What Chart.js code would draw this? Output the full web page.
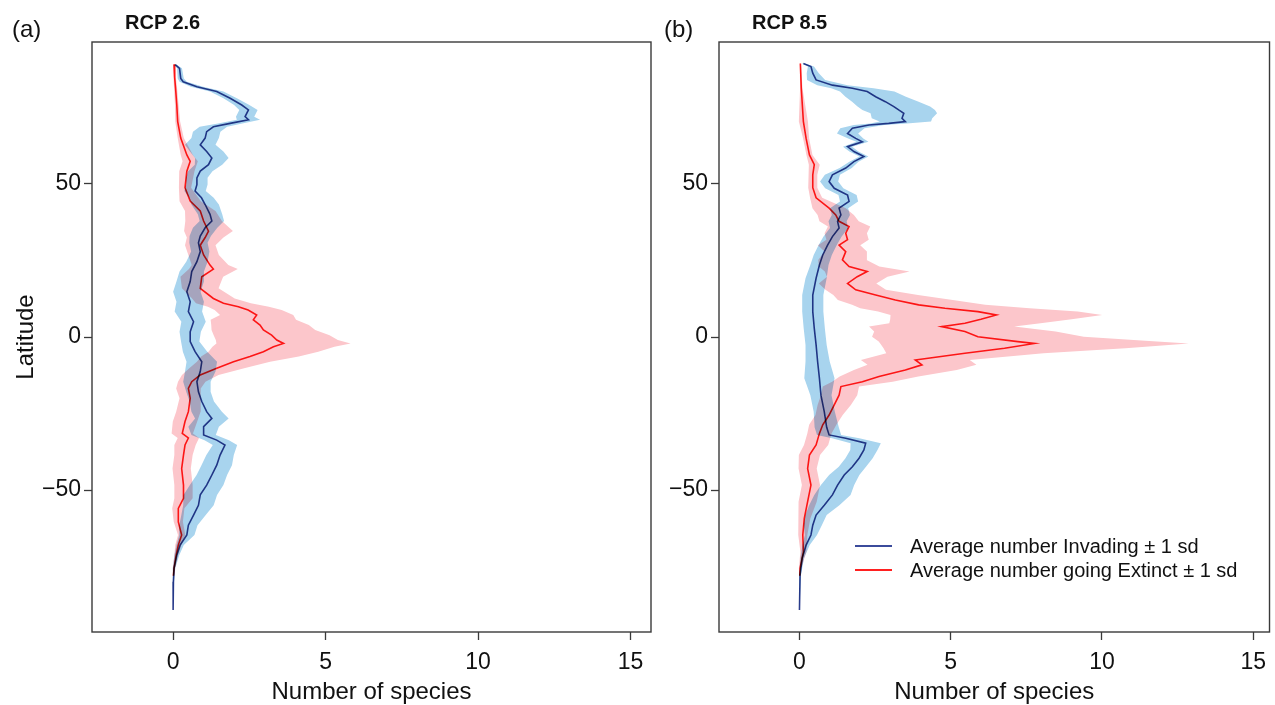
<!DOCTYPE html>
<html><head><meta charset="utf-8">
<script src="https://cdn.jsdelivr.net/npm/chart.js@4.4.1/dist/chart.umd.min.js"></script>
<style>
html,body{margin:0;padding:0;background:#fff;width:1275px;height:705px;overflow:hidden;font-family:"Liberation Sans",Arial,sans-serif;color:#111;}
canvas{position:absolute;top:0;}
#ca{left:0;}
#cb{left:627px;}
.t{position:absolute;white-space:nowrap;}
.pl{font-size:24px;line-height:24px;}
.rc{font-size:20px;line-height:20px;font-weight:bold;}
.lg{font-size:20px;line-height:20px;left:910px;}
.ll{position:absolute;left:855px;width:37px;height:2px;}
</style></head>
<body>
<canvas id="ca" width="660" height="705"></canvas>
<canvas id="cb" width="648" height="705"></canvas>
<div class="t pl" style="left:12px;top:17px;">(a)</div>
<div class="t rc" style="left:125px;top:12px;">RCP 2.6</div>
<div class="t pl" style="left:664px;top:17px;">(b)</div>
<div class="t rc" style="left:752px;top:12px;">RCP 8.5</div>
<div class="ll" style="top:545px;background:#3b4b9b;"></div>
<div class="ll" style="top:569px;background:#ff2020;"></div>
<div class="t lg" style="top:536px;">Average number Invading ± 1 sd</div>
<div class="t lg" style="top:560px;">Average number going Extinct ± 1 sd</div>
<script>
const xTicks = [0, 5, 10, 15];
const yTicks = [-50, 0, 50];

// Panel (a) RCP 2.6 - invading
const latAI = [89, 87.8, 84.5, 83.4, 81.8, 80.2, 78, 75.8, 74.2, 72, 71, 69.8, 68.7, 67.1, 65, 62.8, 60.6, 58.5, 56.3, 54.2, 52, 49.8, 47.7, 45.5, 43.3, 40.1, 37.9, 35.7, 33, 30.8, 27.9, 24.6, 21.4, 18.1, 14.8, 11.5, 8.3, 5, 1.7, -1.5, -4.8, -8.1, -11.3, -14.6, -17.9, -21.1, -24.4, -26.6, -29.3, -32, -33.7, -35.3, -38.6, -41.9, -45.1, -48.4, -51.6, -55, -58.2, -61.5, -64.7, -68, -71.3, -75.6, -80, -89.2];
const meanAI = [0.07, 0.21, 0.25, 0.33, 0.78, 1.43, 1.87, 2.25, 2.47, 2.36, 2.47, 1.87, 1.32, 1.10, 1.05, 0.89, 1.10, 1.27, 1.16, 0.89, 0.78, 0.78, 0.72, 0.93, 1.05, 1.21, 1.27, 1.05, 0.89, 0.83, 0.89, 0.78, 0.61, 0.56, 0.45, 0.56, 0.50, 0.67, 0.56, 0.56, 0.72, 0.94, 0.89, 0.78, 0.83, 0.94, 1.10, 1.27, 1.0, 1.0, 1.43, 1.70, 1.54, 1.43, 1.27, 1.10, 0.89, 0.83, 0.67, 0.50, 0.45, 0.23, 0.12, 0.03, 0.01, 0.0];
const sdAI = [0.05, 0.08, 0.1, 0.12, 0.2, 0.22, 0.22, 0.25, 0.3, 0.3, 0.38, 0.4, 0.45, 0.45, 0.45, 0.5, 0.55, 0.55, 0.45, 0.4, 0.35, 0.35, 0.35, 0.4, 0.45, 0.4, 0.4, 0.4, 0.35, 0.3, 0.3, 0.35, 0.4, 0.45, 0.45, 0.45, 0.45, 0.4, 0.35, 0.3, 0.4, 0.5, 0.5, 0.45, 0.4, 0.4, 0.5, 0.55, 0.5, 0.4, 0.4, 0.4, 0.45, 0.5, 0.5, 0.55, 0.55, 0.5, 0.4, 0.3, 0.25, 0.12, 0.08, 0.04, 0.02, 0];

// Panel (a) RCP 2.6 - going extinct
const latAE = [89.1, 84.9, 81.3, 75.8, 70.4, 65, 59.5, 57.4, 54.2, 48.8, 44.4, 41.2, 37.9, 34.6, 32.5, 30, 26.8, 23.5, 22.2, 19.7, 15.9, 12.6, 11, 9.9, 8.8, 7.2, 5.6, 3.9, 2.3, 0.6, -1, -2.1, -3.2, -4.8, -6.4, -8.1, -10.2, -12.4, -14.6, -16.8, -20, -24.4, -27.6, -31.5, -33, -35.3, -38.6, -43, -48.4, -52.7, -56, -60.4, -64.7, -68, -71.3, -75.6, -78];
const meanAE = [0.03, 0.05, 0.08, 0.12, 0.15, 0.25, 0.45, 0.56, 0.45, 0.39, 0.56, 0.89, 1.0, 1.16, 1.05, 0.89, 1.0, 1.21, 1.32, 0.94, 0.89, 1.32, 1.65, 2.14, 2.46, 2.74, 2.63, 2.85, 2.96, 3.23, 3.40, 3.62, 3.29, 2.96, 2.52, 1.98, 1.43, 0.89, 0.61, 0.50, 0.56, 0.50, 0.39, 0.30, 0.50, 0.39, 0.34, 0.28, 0.34, 0.34, 0.17, 0.17, 0.28, 0.17, 0.10, 0.03, 0.01];
const sdAE = [0.03, 0.04, 0.05, 0.06, 0.08, 0.1, 0.2, 0.25, 0.25, 0.2, 0.35, 0.5, 0.6, 0.8, 0.6, 0.5, 0.5, 0.6, 0.8, 0.7, 0.6, 0.7, 0.9, 1.0, 1.1, 1.2, 1.4, 1.6, 1.7, 1.9, 2.0, 2.2, 2.0, 1.8, 1.6, 1.2, 0.9, 0.6, 0.45, 0.4, 0.35, 0.4, 0.4, 0.35, 0.35, 0.35, 0.3, 0.3, 0.3, 0.3, 0.2, 0.15, 0.12, 0.1, 0.06, 0.04, 0.02];

// Panel (b) RCP 8.5 - invading
const latBI = [89.4, 88.4, 86.2, 84, 82.3, 81.3, 80.2, 78.5, 76.9, 75.3, 74.2, 73.1, 71.5, 70.4, 69.8, 69.3, 68.2, 66.5, 64.9, 63.8, 62.2, 60.6, 59, 57.3, 55.2, 53, 50.8, 48.6, 46.4, 44.3, 42.1, 39.9, 37.8, 35.6, 32.8, 30, 26.8, 23.5, 19.2, 13.7, 8.3, 2.8, -2.6, -8, -13.5, -19, -24.4, -29.5, -32, -33.1, -34.7, -36.9, -39.6, -42.4, -45.1, -48.4, -51.6, -55, -58.2, -61.5, -64.7, -68, -72.3, -77.8, -89.2];
const meanBI = [0.13, 0.38, 0.44, 0.55, 1.09, 1.75, 2.24, 2.52, 2.84, 3.12, 3.28, 3.45, 3.39, 3.5, 2.95, 2.3, 1.75, 1.59, 1.86, 2.08, 1.59, 1.8, 2.13, 1.8, 1.53, 1.09, 0.98, 1.15, 1.59, 1.64, 1.31, 1.37, 1.26, 1.31, 1.09, 0.93, 0.77, 0.66, 0.55, 0.44, 0.44, 0.49, 0.55, 0.6, 0.66, 0.71, 0.82, 0.9, 0.98, 1.53, 2.19, 2.13, 1.97, 1.75, 1.48, 1.26, 1.09, 0.82, 0.55, 0.44, 0.38, 0.22, 0.09, 0.02, 0.0];
const sdBI = [0.05, 0.1, 0.2, 0.3, 0.5, 0.7, 0.9, 1.0, 1.1, 1.2, 1.2, 1.1, 1.0, 0.85, 0.6, 0.5, 0.4, 0.35, 0.25, 0.2, 0.15, 0.15, 0.15, 0.15, 0.2, 0.25, 0.3, 0.3, 0.3, 0.3, 0.3, 0.3, 0.3, 0.3, 0.3, 0.3, 0.3, 0.3, 0.35, 0.35, 0.35, 0.35, 0.35, 0.4, 0.5, 0.35, 0.35, 0.4, 0.4, 0.45, 0.5, 0.45, 0.45, 0.45, 0.5, 0.55, 0.6, 0.5, 0.35, 0.3, 0.2, 0.12, 0.06, 0.03, 0];

// Panel (b) RCP 8.5 - going extinct
const latBE = [89.4, 81.3, 70.4, 64.9, 59.5, 56.3, 53, 48.8, 45.5, 42.1, 39.9, 37.8, 36.1, 33.9, 31.8, 30, 27.9, 25.2, 23, 21.4, 19.7, 17.5, 15.4, 13.7, 12.1, 10.5, 9.4, 8.3, 7.2, 5.8, 4.5, 3.4, 1.8, 0.1, -1.5, -2.1, -3.7, -5.3, -7.5, -9.1, -10.8, -12.9, -14.6, -16.2, -19, -22.2, -25.5, -28.7, -31.5, -35.3, -38.6, -43, -48.4, -53.8, -59.3, -64.7, -70.2, -75.6, -78];
const meanBE = [0.03, 0.06, 0.13, 0.22, 0.33, 0.49, 0.44, 0.44, 0.55, 0.98, 1.2, 1.31, 1.64, 1.53, 1.59, 1.31, 1.53, 1.42, 1.64, 2.24, 1.91, 1.59, 1.86, 2.52, 3.17, 3.94, 4.81, 5.9, 6.51, 6.0, 5.47, 4.7, 5.47, 5.9, 7.22, 7.77, 6.78, 5.47, 3.83, 4.05, 3.5, 2.63, 2.08, 1.37, 1.31, 1.15, 0.98, 0.77, 0.66, 0.55, 0.33, 0.27, 0.38, 0.27, 0.16, 0.11, 0.13, 0.02, 0.01];
const sdBE = [0.02, 0.04, 0.15, 0.1, 0.1, 0.18, 0.15, 0.15, 0.2, 0.55, 0.6, 0.65, 0.7, 0.7, 0.7, 0.7, 0.7, 0.8, 1.0, 1.4, 1.0, 0.95, 1.0, 1.4, 1.9, 2.2, 2.8, 3.3, 3.5, 3.0, 2.5, 2.4, 3.0, 3.5, 4.6, 5.1, 4.0, 2.6, 1.8, 1.8, 1.7, 1.3, 1.0, 0.6, 0.6, 0.55, 0.45, 0.45, 0.4, 0.4, 0.35, 0.3, 0.3, 0.3, 0.2, 0.15, 0.1, 0.04, 0.02];

const FONT = '"Liberation Sans", Arial, sans-serif';
const INK = '#3a3a3a';

function linePts(lat, mean) { return lat.map((l, i) => ({x: mean[i], y: l})); }
function bandPts(lat, mean, sd) {
  const lo = lat.map((l, i) => ({x: mean[i] - sd[i], y: l}));
  const hi = lat.map((l, i) => ({x: mean[i] + sd[i], y: l})).reverse();
  return lo.concat(hi);
}

const framePlugin = {
  id: 'frame',
  beforeDatasetsDraw(chart) { chart.ctx.save(); chart.ctx.globalCompositeOperation = 'multiply'; },
  afterDatasetsDraw(chart) { chart.ctx.restore(); },
  afterDraw(chart) {
    const {ctx, chartArea: a} = chart;
    ctx.save();
    ctx.strokeStyle = INK; ctx.lineWidth = 1.4;
    ctx.strokeRect(a.left, a.top, a.right - a.left, a.bottom - a.top);
    ctx.restore();
  }
};

function makeChart(id, lat1, m1, s1, lat2, m2, s2, xmax, rightPad, showYTitle) {
  return new Chart(document.getElementById(id), {
    type: 'scatter',
    data: {
      datasets: [
        {data: linePts(lat2, m2), showLine: true, borderColor: '#ff1a1a', borderWidth: 1.6, pointRadius: 0, fill: false},
        {data: linePts(lat1, m1), showLine: true, borderColor: '#2e3f8e', borderWidth: 1.6, pointRadius: 0, fill: false},
        {data: bandPts(lat2, m2, s2), showLine: true, borderColor: 'transparent', borderWidth: 0, pointRadius: 0, fill: 'shape', backgroundColor: '#fcc6cb'},
        {data: bandPts(lat1, m1, s1), showLine: true, borderColor: 'transparent', borderWidth: 0, pointRadius: 0, fill: 'shape', backgroundColor: '#a8d4ee'}
      ]
    },
    options: {
      responsive: false, animation: false, events: [],
      layout: {padding: {left: 0, right: rightPad, top: 42, bottom: 0}},
      plugins: {legend: {display: false}, tooltip: {enabled: false}},
      scales: {
        x: {
          type: 'linear', min: -2.66, max: xmax,
          afterBuildTicks: s => { s.ticks = xTicks.map(v => ({value: v})); },
          afterFit: s => { s.height = 73; },
          grid: {display: true, drawOnChartArea: false, drawTicks: true, tickLength: 8, tickColor: INK, tickWidth: 1.3},
          border: {display: false},
          ticks: {font: {family: FONT, size: 23}, color: '#111', padding: 9, maxRotation: 0, autoSkip: false},
          title: {display: true, text: 'Number of species', color: '#111', font: {family: FONT, size: 24, lineHeight: 1}, padding: {top: 0, bottom: 1}}
        },
        y: {
          type: 'linear', min: -96.4, max: 96.4,
          afterBuildTicks: s => { s.ticks = yTicks.map(v => ({value: v})); },
          afterFit: s => { s.width = 92; },
          grid: {display: true, drawOnChartArea: false, drawTicks: true, tickLength: 8, tickColor: INK, tickWidth: 1.3},
          border: {display: false},
          ticks: {font: {family: FONT, size: 23}, color: '#111', padding: 3, autoSkip: false,
                  callback: v => (v < 0 ? '\u2212' + Math.abs(v) : String(v))},
          title: {display: showYTitle, text: 'Latitude', color: '#111', font: {family: FONT, size: 24, lineHeight: 1}, padding: {top: 14, bottom: 0}}
        }
      }
    },
    plugins: [framePlugin]
  });
}

makeChart('ca', latAI, meanAI, sdAI, latAE, meanAE, sdAE, 15.67, 9, true);
makeChart('cb', latBI, meanBI, sdBI, latBE, meanBE, sdBE, 15.54, 1, false);
</script>
</body></html>
